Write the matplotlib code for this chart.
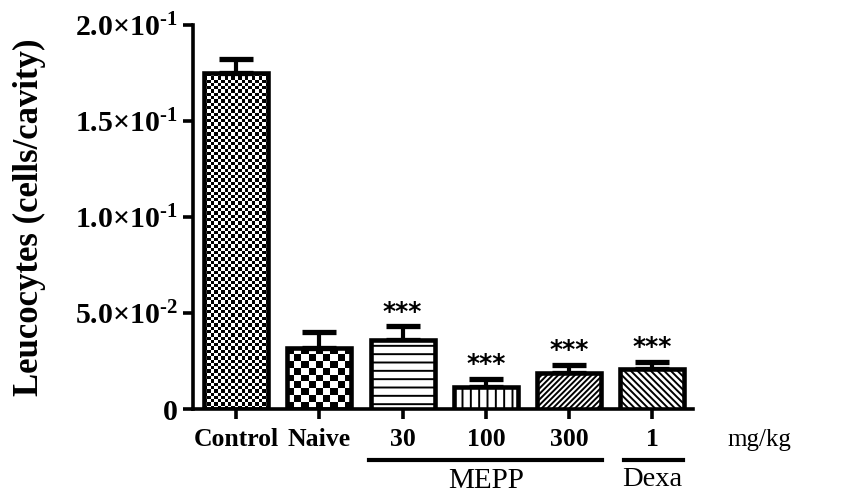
import numpy as np
import matplotlib
matplotlib.use("Agg")
import matplotlib.pyplot as plt
from matplotlib.lines import Line2D

plt.rcParams["font.family"] = ["Liberation Serif", "DejaVu Serif"]
plt.rcParams["mathtext.fontset"] = "custom"
plt.rcParams["mathtext.rm"] = "Liberation Serif"
plt.rcParams["mathtext.bf"] = "Liberation Serif:bold"
plt.rcParams["mathtext.it"] = "Liberation Serif:italic"
plt.rcParams["hatch.linewidth"] = 1.4

# Leucocyte counts (mean and SEM) per group
groups = ["Control", "Naive", "30", "100", "300", "1"]
means = [0.175, 0.032, 0.036, 0.0115, 0.0185, 0.021]
sems = [0.0075, 0.008, 0.007, 0.004, 0.0045, 0.0035]
signif = ["", "", "***", "***", "***", "***"]
yticks = [0, 0.05, 0.10, 0.15, 0.20]
ytick_labels = ["0",
                "$\\mathbf{5.0{\\times}10^{\u2010 2}}$",
                "$\\mathbf{1.0{\\times}10^{\u2010 1}}$",
                "$\\mathbf{1.5{\\times}10^{\u2010 1}}$",
                "$\\mathbf{2.0{\\times}10^{\u2010 1}}$"]

fig = plt.figure(figsize=(8.64, 4.95), dpi=100)
ax = fig.add_axes([193 / 864, 1 - 409 / 495, 500 / 864, 384 / 495])

x = np.arange(len(groups))
xlim = (-0.52, 5.49)
ylim = (0, 0.2)
ax.set_xlim(*xlim)
ax.set_ylim(*ylim)

# fill styles: None -> checkerboard image, string -> hatch
hatches = [None, None, "--", "||", "//////", "\\\\\\\\\\"]
checker_px = [3.3, 6.8, None, None, None, None]

bars = ax.bar(x, means, width=0.77, facecolor="none", edgecolor="black",
              linewidth=3.3, zorder=3)
for b, h in zip(bars, hatches):
    if h is not None:
        b.set_hatch(h)
        b.set_facecolor("white")

# checkerboard fills clipped to the bar outlines
for b, cell in zip(bars, checker_px):
    if cell is None:
        continue
    ext = b.get_window_extent()
    nx = max(1, int(round(ext.width / cell)))
    ny = max(1, int(round(ext.height / cell)))
    board = (np.add.outer(np.arange(ny), np.arange(nx)) % 2).astype(float)
    x0, y0 = b.get_x(), b.get_y()
    im = ax.imshow(board, cmap="gray", interpolation="nearest", aspect="auto",
                   extent=(x0, x0 + b.get_width(), y0, y0 + b.get_height()),
                   origin="lower", zorder=2, vmin=0, vmax=1)
    im.set_clip_path(b)

ax.set_xlim(*xlim)
ax.set_ylim(*ylim)

# upper error bars only
eb = ax.errorbar(x, means, yerr=[np.zeros(len(sems)), sems], fmt="none",
                 ecolor="black", elinewidth=3.0, capsize=12, capthick=3.8,
                 zorder=2.5)
for cap in eb[1]:
    cap.set_solid_capstyle("round")

for xi, m, s, t in zip(x, means, sems, signif):
    if t:
        ax.annotate(t, (xi, m + s), xytext=(0, 2), textcoords="offset points",
                    ha="center", va="bottom", fontsize=18, fontweight="bold",
                    family=["DejaVu Sans"])

for side in ("top", "right"):
    ax.spines[side].set_visible(False)
for side in ("left", "bottom"):
    ax.spines[side].set_linewidth(2.6)

ax.set_xticks(x)
ax.set_xticklabels(groups, fontsize=18.5, fontweight="bold")
ax.set_yticks(yticks)
ax.set_yticklabels(ytick_labels, fontsize=21.5, fontweight="bold")
ax.tick_params(axis="both", direction="out", length=7, width=2.6, pad=4)
ax.tick_params(axis="x", pad=7)

fig.text(29 / 864, 1 - 217 / 495, "Leucocytes (cells/cavity)", rotation=90,
         ha="center", va="center", fontsize=25, fontweight="bold")

# group brackets below the axis
trans = ax.get_xaxis_transform()
y_line = -(460 - 409) / 384
ax.add_line(Line2D([2 - 0.4, 4 + 0.4], [y_line, y_line], transform=trans,
                   color="black", linewidth=3.0, clip_on=False))
ax.add_line(Line2D([5 - 0.34, 5 + 0.37], [y_line, y_line], transform=trans,
                   color="black", linewidth=3.0, clip_on=False))
ax.text(3, -(481 - 409) / 384, "MEPP", transform=trans, ha="center",
        va="center", fontsize=21)
ax.text(5, -(479 - 409) / 384, "Dexa", transform=trans, ha="center",
        va="center", fontsize=20.5)
fig.text(727 / 864, 1 - 440 / 495, "mg/kg", ha="left", va="center", fontsize=18)

fig.savefig("out.png", dpi=100)
